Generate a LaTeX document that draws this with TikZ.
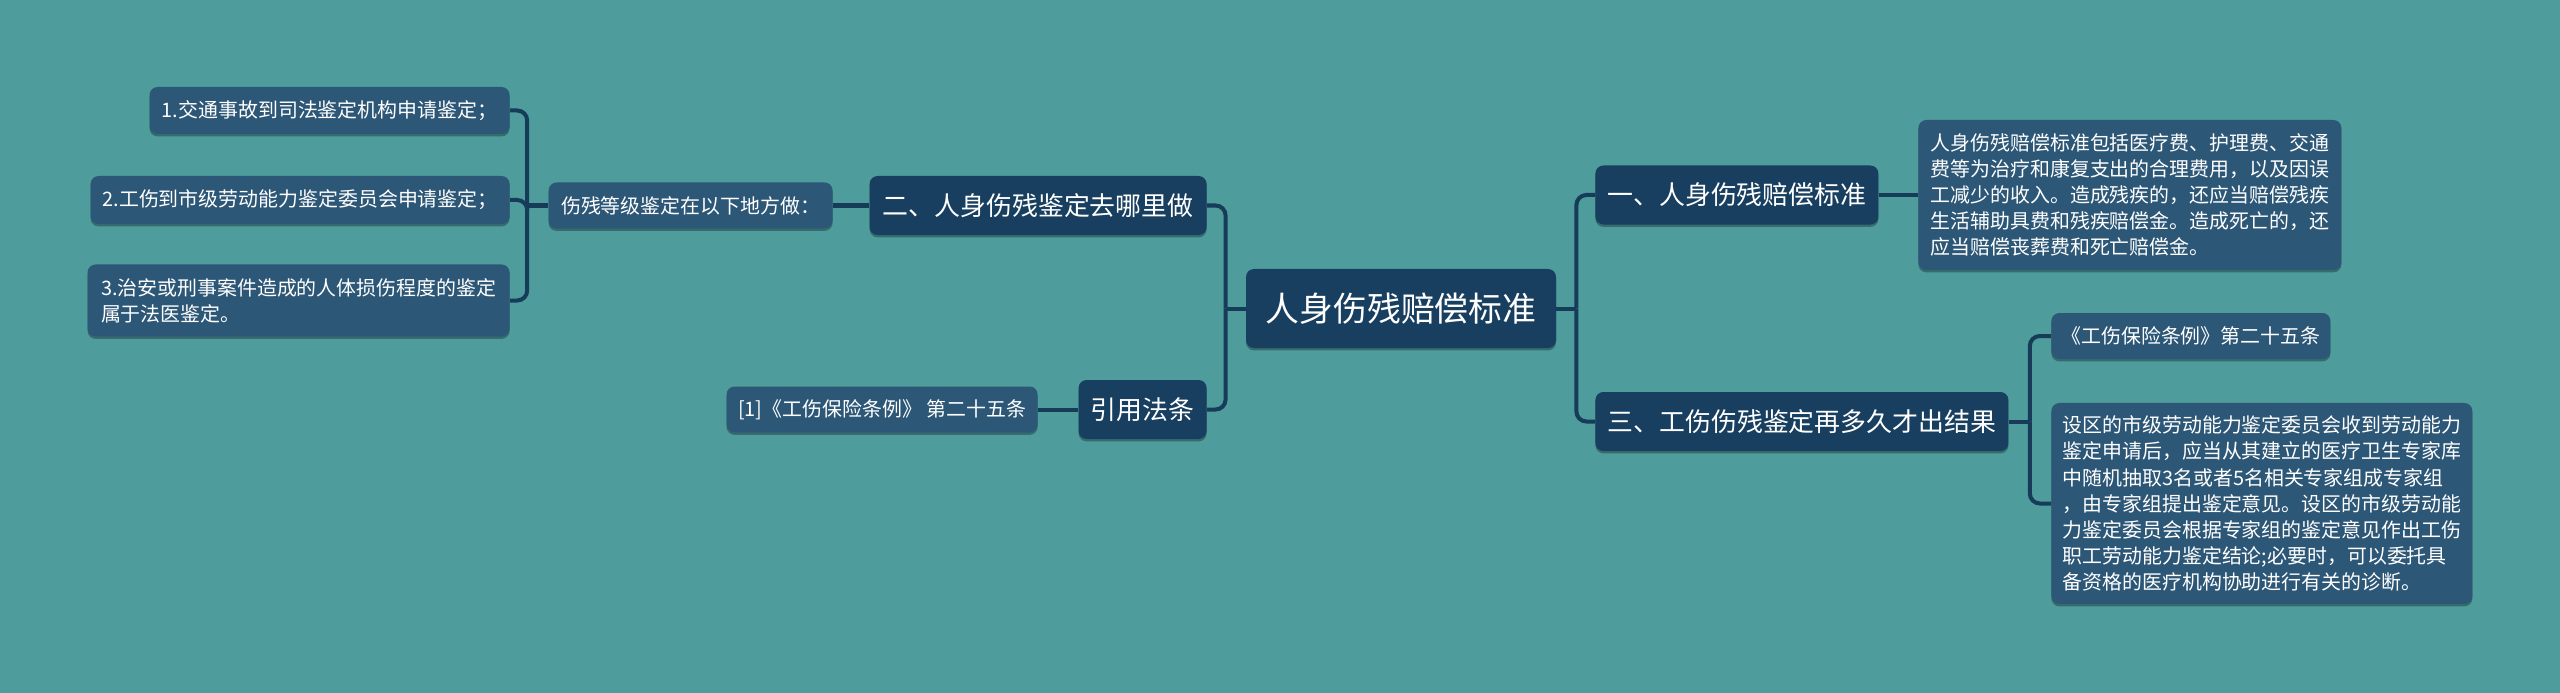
\documentclass[tikz,border=0pt]{standalone}
\usepackage{fontspec}
\setmainfont{Noto Sans CJK SC}
\usepackage{xcolor}
\usepackage{tikz}
\usetikzlibrary{shadows}
\definecolor{mapbg}{HTML}{4E9C9C}
\definecolor{mapnavy}{HTML}{183F5F}
\definecolor{mapslate}{HTML}{2D5777}
\definecolor{mapline}{HTML}{163C5A}

\tikzset{
  boxbase/.style={text=white, rounded corners=4bp,
    drop shadow={shadow xshift=0bp, shadow yshift=-1.2bp, opacity=0.3, fill=black}},
  rootbox/.style={boxbase, fill=mapnavy, inner xsep=5bp, font=\fontsize{17}{20}\selectfont},
  topicbox/.style={boxbase, fill=mapnavy, inner xsep=4bp, font=\fontsize{13}{16}\selectfont},
  leafbox/.style={boxbase, fill=mapslate, inner xsep=5bp, inner ysep=3bp, align=left,
    font=\fontsize{10}{13.1}\selectfont},
  link/.style={draw=mapline, line width=2bp},
  elbow/.style={link, rounded corners=5bp},
}

\begin{document}
\begin{tikzpicture}[x=0.5bp,y=-0.5bp]
  \fill[mapbg] (0,0) rectangle (2560,693);
  \useasboundingbox (0,0) rectangle (2560,693);

  % centre
  \node[rootbox, minimum width=155bp, minimum height=39.5bp] (root) at (1401,308.5) {人身伤残赔偿标准};

  % left branch
  \node[topicbox, anchor=east, minimum width=168.5bp, minimum height=29.5bp] (where) at (1207,205.5) {二、人身伤残鉴定去哪里做};
  \node[topicbox, anchor=east, minimum width=64bp, minimum height=29.5bp] (law) at (1207,409.5) {引用法条};
  \node[leafbox, anchor=east, minimum width=155.5bp, minimum height=23bp] (lawref) at (1038,409.5) {[1]《工伤保险条例》 第二十五条};
  \node[leafbox, anchor=east, minimum width=142bp, minimum height=23bp] (places) at (833,205.5) {伤残等级鉴定在以下地方做：};
  \node[leafbox, anchor=east, minimum width=180bp, minimum height=23.5bp] (placeA) at (510,110.5) {1.交通事故到司法鉴定机构申请鉴定；};
  \node[leafbox, anchor=east, minimum width=209.5bp, minimum height=24bp] (placeB) at (510,200) {2.工伤到市级劳动能力鉴定委员会申请鉴定；};
  \node[leafbox, anchor=east, minimum width=211bp, minimum height=36bp] (placeC) at (510,300.5) {3.治安或刑事案件造成的人体损伤程度的鉴定\\属于法医鉴定。};

  % right branch
  \node[topicbox, anchor=west, minimum width=141.5bp, minimum height=29.5bp] (std) at (1595,195) {一、人身伤残赔偿标准};
  \node[leafbox, anchor=west, minimum width=211.5bp, minimum height=75bp] (stdtext) at (1918,195) {人身伤残赔偿标准包括医疗费、护理费、交通\\费等为治疗和康复支出的合理费用，以及因误\\工减少的收入。造成残疾的，还应当赔偿残疾\\生活辅助具费和残疾赔偿金。造成死亡的，还\\应当赔偿丧葬费和死亡赔偿金。};
  \node[topicbox, anchor=west, minimum width=206.5bp, minimum height=29.5bp] (time) at (1595,421.5) {三、工伤伤残鉴定再多久才出结果};
  \node[leafbox, anchor=west, minimum width=139.5bp, minimum height=23bp] (timeref) at (2051,336) {《工伤保险条例》第二十五条};
  \node[leafbox, anchor=west, minimum width=210.5bp, minimum height=100.5bp] (timetext) at (2051,503.5) {设区的市级劳动能力鉴定委员会收到劳动能力\\鉴定申请后，应当从其建立的医疗卫生专家库\\中随机抽取3名或者5名相关专家组成专家组\\，由专家组提出鉴定意见。设区的市级劳动能\\力鉴定委员会根据专家组的鉴定意见作出工伤\\职工劳动能力鉴定结论;必要时，可以委托具\\备资格的医疗机构协助进行有关的诊断。};

  % connectors
  \draw[link] (root.west) -- ++(-20,0) coordinate (lbus);
  \draw[elbow] (lbus) |- (where.east);
  \draw[elbow] (lbus) |- (law.east);
  \draw[link] (root.east) -- ++(20,0) coordinate (rbus);
  \draw[elbow] (rbus) |- (std.west);
  \draw[elbow] (rbus) |- (time.west);

  \draw[link] (where.west) -- (places.east);
  \draw[link] (places.west) -- ++(-21,0) coordinate (pbus);
  \foreach \p in {placeA,placeB,placeC}
    \draw[elbow] (pbus) |- (\p.east);
  \draw[link] (law.west) -- (lawref.east);

  \draw[link] (std.east) -- (stdtext.west);
  \draw[link] (time.east) -- ++(21,0) coordinate (tbus);
  \draw[elbow] (tbus) |- (timeref.west);
  \draw[elbow] (tbus) |- (timetext.west);
\end{tikzpicture}
\end{document}
